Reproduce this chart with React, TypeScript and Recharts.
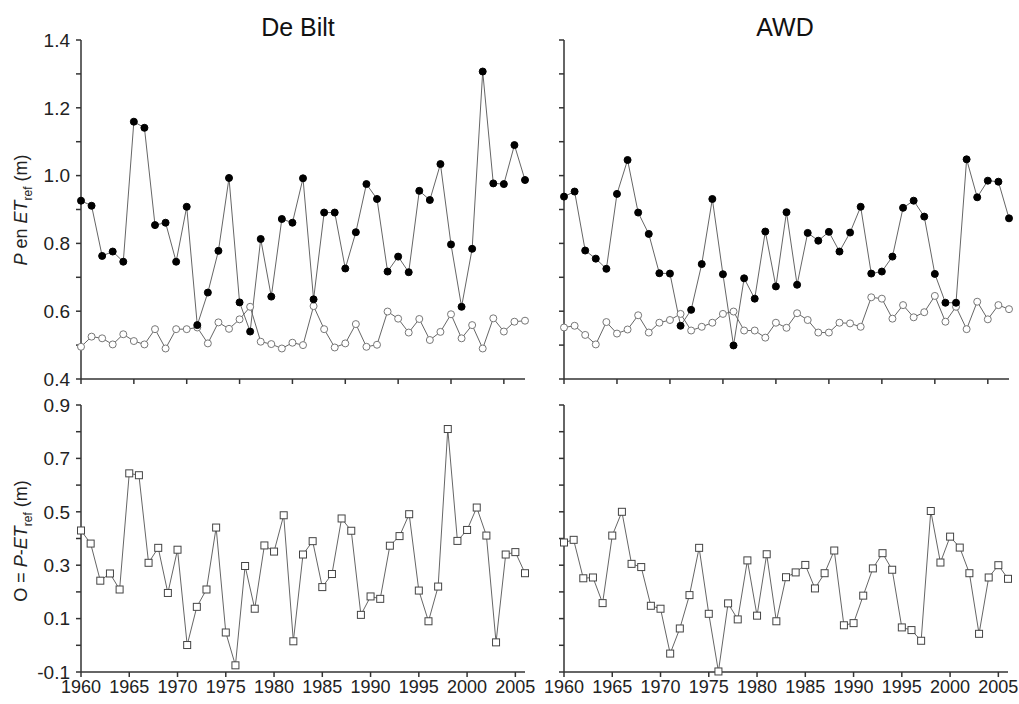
import React from "react";
import { LineChart, Line, XAxis, YAxis } from "recharts";

const FONT = "'Liberation Sans', Arial, sans-serif";

// years 1960-2006; the upper panels only run to 2002
const years = [
  1960, 1961, 1962, 1963, 1964, 1965, 1966, 1967, 1968, 1969,
  1970, 1971, 1972, 1973, 1974, 1975, 1976, 1977, 1978, 1979,
  1980, 1981, 1982, 1983, 1984, 1985, 1986, 1987, 1988, 1989,
  1990, 1991, 1992, 1993, 1994, 1995, 1996, 1997, 1998, 1999,
  2000, 2001, 2002, 2003, 2004, 2005, 2006,
];
const topYears = years.slice(0, 43);

const debiltP = [
  0.926, 0.911, 0.763, 0.776, 0.746, 1.159, 1.141, 0.854, 0.861, 0.746,
  0.908, 0.559, 0.655, 0.778, 0.993, 0.626, 0.54, 0.813, 0.643, 0.872,
  0.861, 0.992, 0.635, 0.891, 0.891, 0.726, 0.833, 0.975, 0.931, 0.717,
  0.761, 0.715, 0.955, 0.928, 1.034, 0.797, 0.613, 0.784, 1.307, 0.977,
  0.975, 1.09, 0.987,
];
const debiltET = [
  0.495, 0.525, 0.52, 0.502, 0.532, 0.512, 0.502, 0.547, 0.49, 0.547,
  0.547, 0.552, 0.505, 0.567, 0.548, 0.576, 0.613, 0.51, 0.503, 0.49,
  0.507, 0.5, 0.615, 0.547, 0.493, 0.505, 0.562, 0.495, 0.501, 0.599,
  0.578, 0.537, 0.577, 0.515, 0.539, 0.591, 0.52, 0.559, 0.49, 0.579,
  0.54, 0.569, 0.572,
];
const awdP = [
  0.938, 0.953, 0.779, 0.755, 0.725, 0.946, 1.046, 0.891, 0.828, 0.712,
  0.711, 0.557, 0.604, 0.739, 0.931, 0.709, 0.499, 0.697, 0.637, 0.835,
  0.673, 0.892, 0.678, 0.831, 0.808, 0.834, 0.776, 0.832, 0.908, 0.711,
  0.717, 0.761, 0.905, 0.926, 0.879, 0.71, 0.625, 0.625, 1.048, 0.936,
  0.985, 0.982, 0.874,
];
const awdET = [
  0.552, 0.557, 0.53, 0.502, 0.568, 0.534, 0.546, 0.588, 0.537, 0.566,
  0.574, 0.592, 0.543, 0.554, 0.566, 0.592, 0.599, 0.543, 0.543, 0.522,
  0.566, 0.551, 0.594, 0.574, 0.537, 0.537, 0.566, 0.564, 0.554, 0.641,
  0.637, 0.578, 0.618, 0.582, 0.597, 0.645, 0.569, 0.613, 0.547, 0.628,
  0.576, 0.618, 0.606,
];
const debiltO = [
  0.43, 0.381, 0.242, 0.269, 0.209, 0.644, 0.637, 0.309, 0.365, 0.196,
  0.358, 0.001, 0.144, 0.209, 0.441, 0.048, -0.075, 0.297, 0.137, 0.374,
  0.351, 0.487, 0.015, 0.34, 0.39, 0.218, 0.267, 0.475, 0.429, 0.114,
  0.183, 0.174, 0.373, 0.409, 0.491, 0.205, 0.09, 0.22, 0.81, 0.391,
  0.432, 0.516, 0.411, 0.011, 0.34, 0.349, 0.27,
];
const awdO = [
  0.385, 0.395, 0.251, 0.254, 0.158, 0.411, 0.5, 0.305, 0.293, 0.148,
  0.137, -0.031, 0.063, 0.188, 0.365, 0.118, -0.098, 0.157, 0.097, 0.318,
  0.111, 0.341, 0.09, 0.255, 0.273, 0.301, 0.213, 0.27, 0.355, 0.075,
  0.083, 0.186, 0.288, 0.345, 0.283, 0.067, 0.057, 0.017, 0.503, 0.31,
  0.407, 0.366, 0.27, 0.043, 0.254, 0.3, 0.249,
];

const topXTicks = [1960, 1965, 1970, 1975, 1980, 1985, 1990, 1995, 2000];
const bottomXTicks = [1960, 1965, 1970, 1975, 1980, 1985, 1990, 1995, 2000, 2005];
const topYTicks = [0.4, 0.5, 0.6, 0.7, 0.8, 0.9, 1.0, 1.1, 1.2, 1.3, 1.4];
const bottomYTicks = [-0.1, 0, 0.1, 0.2, 0.3, 0.4, 0.5, 0.6, 0.7, 0.8, 0.9];

const debiltTop = topYears.map((year, i) => ({ year, P: debiltP[i], ET: debiltET[i] }));
const awdTop = topYears.map((year, i) => ({ year, P: awdP[i], ET: awdET[i] }));
const debiltBottom = years.map((year, i) => ({ year, O: debiltO[i] }));
const awdBottom = years.map((year, i) => ({ year, O: awdO[i] }));

const evenLabel = (v: number) => (Math.round(v * 10) % 2 === 0 ? v.toFixed(1) : "");
const oddLabel = (v: number) => (Math.abs(Math.round(v * 10)) % 2 === 1 ? v.toFixed(1) : "");

const yTickStyle = { fontSize: 19, fill: "#222", fontFamily: FONT };
const xTickStyle = { fontSize: 18, fill: "#222", fontFamily: FONT };
const axisStroke = "#333";

// keeps the tick marks but draws no label
const blankTick = (p: any) => <g key={`b-${p.index}`} />;

const squareDot = (p: any) => (
  <rect
    key={`sq-${p.index}`}
    x={p.cx - 3.5}
    y={p.cy - 3.5}
    width={7}
    height={7}
    fill="#fff"
    stroke="#444"
    strokeWidth={1}
  />
);

type PlotBox = { x0: number; y0: number; x1: number; y1: number };

function Panel(props: {
  left: number;
  top: number;
  width: number;
  height: number;
  plot: PlotBox;
  data: any[];
  xDomain: [number, number];
  xTicks: number[];
  xLabels: boolean;
  yDomain: [number, number];
  yTicks: number[];
  yFormat?: (v: number) => string;
  children: React.ReactNode;
}) {
  const { left, top, width, height, plot } = props;
  const yW = props.yFormat ? 60 : 10;
  const xH = props.xLabels ? 30 : 12;
  const margin = {
    top: plot.y0 - top,
    left: plot.x0 - left - yW,
    right: left + width - plot.x1,
    bottom: top + height - plot.y1 - xH,
  };
  return (
    <div style={{ position: "absolute", left, top, width, height }}>
      <LineChart width={width} height={height} data={props.data} margin={margin}>
        <XAxis
          dataKey="year"
          type="number"
          domain={props.xDomain}
          ticks={props.xTicks}
          interval={0}
          height={xH}
          tick={props.xLabels ? xTickStyle : blankTick}
          tickSize={5}
          tickMargin={3}
          stroke={axisStroke}
          strokeWidth={1.5}
        />
        <YAxis
          type="number"
          domain={props.yDomain}
          ticks={props.yTicks}
          interval={0}
          width={yW}
          tick={props.yFormat ? yTickStyle : blankTick}
          tickFormatter={props.yFormat}
          tickSize={5}
          tickMargin={6}
          stroke={axisStroke}
          strokeWidth={1.5}
        />
        {props.children}
      </LineChart>
    </div>
  );
}

const lineColor = "#666";

function TopLines() {
  return [
    <Line
      key="et"
      type="linear"
      dataKey="ET"
      stroke={lineColor}
      strokeWidth={1}
      dot={{ r: 3.5, fill: "#fff", stroke: "#777", strokeWidth: 1 }}
      isAnimationActive={false}
    />,
    <Line
      key="p"
      type="linear"
      dataKey="P"
      stroke={lineColor}
      strokeWidth={1}
      dot={{ r: 3.5, fill: "#000", stroke: "#000", strokeWidth: 1 }}
      isAnimationActive={false}
    />,
  ];
}

export default function App() {
  const ref = (
    <tspan fontSize={12} dy={5}>
      ref
    </tspan>
  );
  return (
    <div style={{ position: "absolute", left: 0, top: 0, width: 1019, height: 704, background: "#fff", fontFamily: FONT }}>
      <Panel
        left={0} top={0} width={540} height={395}
        plot={{ x0: 81, y0: 40, x1: 525, y1: 379 }}
        data={debiltTop}
        xDomain={[1960, 2002]} xTicks={topXTicks} xLabels={false}
        yDomain={[0.4, 1.4]} yTicks={topYTicks} yFormat={evenLabel}
      >
        {TopLines()}
      </Panel>
      <Panel
        left={540} top={0} width={479} height={395}
        plot={{ x0: 564, y0: 40, x1: 1009, y1: 379 }}
        data={awdTop}
        xDomain={[1960, 2002]} xTicks={topXTicks} xLabels={false}
        yDomain={[0.4, 1.4]} yTicks={topYTicks}
      >
        {TopLines()}
      </Panel>
      <Panel
        left={0} top={390} width={540} height={314}
        plot={{ x0: 81, y0: 405, x1: 525, y1: 672 }}
        data={debiltBottom}
        xDomain={[1960, 2006]} xTicks={bottomXTicks} xLabels={true}
        yDomain={[-0.1, 0.9]} yTicks={bottomYTicks} yFormat={oddLabel}
      >
        <Line type="linear" dataKey="O" stroke={lineColor} strokeWidth={1} dot={squareDot} isAnimationActive={false} />
      </Panel>
      <Panel
        left={540} top={390} width={479} height={314}
        plot={{ x0: 564, y0: 405, x1: 1008, y1: 672 }}
        data={awdBottom}
        xDomain={[1960, 2006]} xTicks={bottomXTicks} xLabels={true}
        yDomain={[-0.1, 0.9]} yTicks={bottomYTicks}
      >
        <Line type="linear" dataKey="O" stroke={lineColor} strokeWidth={1} dot={squareDot} isAnimationActive={false} />
      </Panel>

      <svg width={1019} height={704} style={{ position: "absolute", left: 0, top: 0, pointerEvents: "none" }}>
        <text x={298} y={36} textAnchor="middle" fontSize={25} fill="#111" fontFamily={FONT}>
          De Bilt
        </text>
        <text x={785} y={36} textAnchor="middle" fontSize={25} fill="#111" fontFamily={FONT}>
          AWD
        </text>
        <text
          x={27} y={210} textAnchor="middle" fontSize={18} fill="#222" fontFamily={FONT}
          transform="rotate(-90 27 210)" style={{ whiteSpace: "pre" }}
        >
          <tspan fontStyle="italic">P</tspan>
          <tspan> en </tspan>
          <tspan fontStyle="italic">ET</tspan>
          {ref}
          <tspan dy={-5}> (m)</tspan>
        </text>
        <text
          x={27} y={541} textAnchor="middle" fontSize={18} fill="#222" fontFamily={FONT}
          transform="rotate(-90 27 541)" style={{ whiteSpace: "pre" }}
        >
          <tspan>O = </tspan>
          <tspan fontStyle="italic">P</tspan>
          <tspan>-</tspan>
          <tspan fontStyle="italic">ET</tspan>
          {ref}
          <tspan dy={-5}> (m)</tspan>
        </text>
      </svg>
    </div>
  );
}
